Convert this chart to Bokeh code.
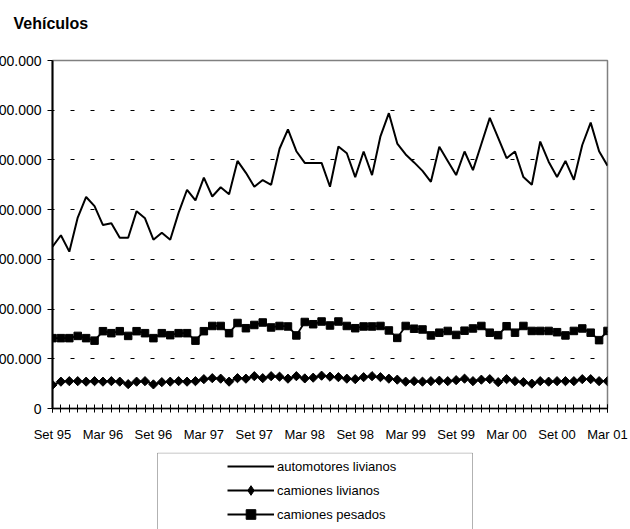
import numpy as np
from bokeh.plotting import figure
from bokeh.layouts import column
from bokeh.models import (Range1d, FixedTicker, Legend, LegendItem, BoxAnnotation,
                          GlobalInlineStyleSheet)
from bokeh.embed import file_html
from bokeh.resources import INLINE

# ---------------- data ----------------
title_text = "Vehículos"
x_tick_labels = ["Set 95", "Mar 96", "Set 96", "Mar 97", "Set 97", "Mar 98",
                 "Set 98", "Mar 99", "Set 99", "Mar 00", "Set 00", "Mar 01"]
y_ticks = [0, 200000, 400000, 600000, 800000, 1000000, 1200000, 1400000]
y_tick_labels = ["0", "200.000", "400.000", "600.000", "800.000",
                 "1.000.000", "1.200.000", "1.400.000"]
series_names = ["automotores livianos", "camiones livianos", "camiones pesados"]

automotores_livianos = [
    651000, 697000, 631000, 768000, 851000, 814000, 738000, 745000, 687000, 687000,
    794000, 765000, 679000, 707000, 679000, 788000, 880000, 837000, 929000, 853000,
    890000, 862000, 996000, 948000, 892000, 919000, 900000, 1045000, 1123000, 1035000,
    988000, 988000, 988000, 892000, 1054000, 1027000, 931000, 1034000, 939000, 1095000,
    1188000, 1066000, 1022000, 990000, 956000, 912000, 1053000, 996000, 939000, 1034000,
    959000, 1064000, 1169000, 1089000, 1007000, 1034000, 931000, 900000, 1074000, 993000,
    931000, 996000, 920000, 1060000, 1150000, 1035000, 977000]
camiones_livianos = [
    95000, 108000, 110000, 110000, 108000, 110000, 108000, 110000, 108000, 98000,
    108000, 110000, 97000, 106000, 108000, 110000, 108000, 110000, 118000, 122000,
    120000, 108000, 122000, 120000, 130000, 122000, 130000, 128000, 120000, 130000,
    121000, 124000, 132000, 128000, 126000, 120000, 118000, 126000, 130000, 126000,
    120000, 116000, 108000, 110000, 108000, 110000, 112000, 110000, 114000, 120000,
    110000, 116000, 118000, 106000, 118000, 110000, 106000, 100000, 110000, 108000,
    110000, 110000, 110000, 118000, 118000, 110000, 110000]
camiones_pesados = [
    283000, 283000, 283000, 292000, 283000, 273000, 311000, 303000, 311000, 292000,
    311000, 303000, 283000, 303000, 295000, 303000, 303000, 273000, 311000, 332000,
    332000, 303000, 344000, 323000, 336000, 346000, 326000, 332000, 330000, 294000,
    348000, 339000, 350000, 334000, 350000, 332000, 323000, 330000, 330000, 332000,
    314000, 284000, 332000, 321000, 318000, 294000, 305000, 312000, 296000, 313000,
    322000, 332000, 305000, 295000, 331000, 305000, 332000, 312000, 312000, 312000,
    307000, 294000, 312000, 322000, 305000, 275000, 312000]

FONT = "Liberation Sans"
n = len(automotores_livianos)
xs = np.arange(n)
month_step = (n - 1) // (len(x_tick_labels) - 1)
major_x = [k * month_step for k in range(len(x_tick_labels))]
CANVAS_W = 678
SHIFT = {"position": "relative", "left": "-48px"}


def draw_series(fig, diamond_as_marker=False):
    r_auto = fig.line(xs, automotores_livianos, line_color="black", line_width=2)
    r_cl_line = fig.line(xs, camiones_livianos, line_color="black", line_width=1.8)
    if diamond_as_marker:
        r_cl_mark = fig.scatter(xs, camiones_livianos, marker="diamond", size=10,
                                fill_color="black", line_color="black")
    else:
        r_cl_mark = fig.scatter(xs, camiones_livianos, marker="square",
                                angle=np.pi / 4, size=6.5,
                                fill_color="black", line_color="black")
    r_cp_line = fig.line(xs, camiones_pesados, line_color="black", line_width=1.8)
    r_cp_mark = fig.scatter(xs, camiones_pesados, marker="square", size=7.5,
                            fill_color="black", line_color="black")
    return [[r_auto], [r_cl_line, r_cl_mark], [r_cp_line, r_cp_mark]]


# ---------------- main chart ----------------
p = figure(width=CANVAS_W, height=452, output_backend="svg", toolbar_location=None,
           x_range=Range1d(0, n - 1), y_range=Range1d(y_ticks[0], y_ticks[-1]),
           min_border_left=100, min_border_right=23, min_border_top=60,
           min_border_bottom=44)
p.styles = dict(SHIFT)
p.background_fill_color = "white"
p.border_fill_color = "white"
p.outline_line_color = "#808080"
p.outline_line_width = 1.5

p.title.text = title_text + "\n"
p.title.align = "left"
p.title.offset = -39
p.title.standoff = 23
p.title.text_font = FONT
p.title.text_font_size = "16px"
p.title.text_font_style = "bold"
p.title.text_color = "black"

p.xgrid.visible = False
p.ygrid.ticker = FixedTicker(ticks=y_ticks[1:-1])
p.ygrid.grid_line_color = "black"
p.ygrid.grid_line_width = 1
p.ygrid.grid_line_dash = "4 16"
p.ygrid.grid_line_dash_offset = 2

p.xaxis.ticker = FixedTicker(ticks=major_x, minor_ticks=[int(i) for i in xs])
p.xaxis.major_label_overrides = {t: lab for t, lab in zip(major_x, x_tick_labels)}
p.xaxis.major_tick_in = 4
p.xaxis.major_tick_out = 4
p.xaxis.minor_tick_in = 4
p.xaxis.minor_tick_out = 4
p.xaxis.major_tick_line_color = "black"
p.xaxis.minor_tick_line_color = "black"
p.xaxis.major_tick_line_width = 1
p.xaxis.minor_tick_line_width = 1
p.xaxis.axis_line_color = "black"
p.xaxis.axis_line_width = 1.5
p.xaxis.major_label_standoff = 14
p.xaxis.major_label_text_font = FONT
p.xaxis.major_label_text_font_size = "13px"
p.xaxis.major_label_text_color = "black"

p.yaxis.ticker = FixedTicker(ticks=y_ticks)
p.yaxis.major_label_overrides = {t: lab for t, lab in zip(y_ticks, y_tick_labels)}
p.yaxis.major_tick_in = 0
p.yaxis.major_tick_out = 5
p.yaxis.minor_tick_line_color = None
p.yaxis.major_tick_line_color = "black"
p.yaxis.axis_line_color = "black"
p.yaxis.axis_line_width = 2
p.yaxis.major_label_standoff = 6
p.yaxis.major_label_text_font = FONT
p.yaxis.major_label_text_font_size = "14px"
p.yaxis.major_label_text_color = "black"

draw_series(p)

# ---------------- legend strip (frame is aligned with the chart frame) ----------------
lg = figure(width=CANVAS_W, height=77, output_backend="svg", toolbar_location=None,
            x_axis_location=None, y_axis_location=None,
            x_range=Range1d(-20, -10), y_range=Range1d(-20, -10),
            min_border=0)
lg.styles = dict(SHIFT)
lg.outline_line_color = None
lg.background_fill_color = "white"
lg.border_fill_color = "white"
lg.grid.visible = False
groups = draw_series(lg, diamond_as_marker=True)
lg.add_layout(BoxAnnotation(left=105, right=420, top=76.5, bottom=-10,
                            left_units="screen", right_units="screen",
                            top_units="screen", bottom_units="screen",
                            fill_alpha=0, line_color="black", line_width=1))
legend = Legend(items=[LegendItem(label=name, renderers=rs)
                       for name, rs in zip(series_names, groups)],
                location=(175, 3), orientation="vertical", glyph_width=47,
                glyph_height=24, label_height=24, spacing=0, padding=0, margin=0,
                label_standoff=3, label_text_font=FONT, label_text_font_size="13px",
                label_text_color="black", border_line_alpha=0,
                background_fill_alpha=0)
lg.add_layout(legend)

layout = column(p, lg, spacing=0)
layout.stylesheets = [GlobalInlineStyleSheet(css="body { overflow: hidden; }")]

open("out.html", "w").write(file_html(layout, INLINE))
